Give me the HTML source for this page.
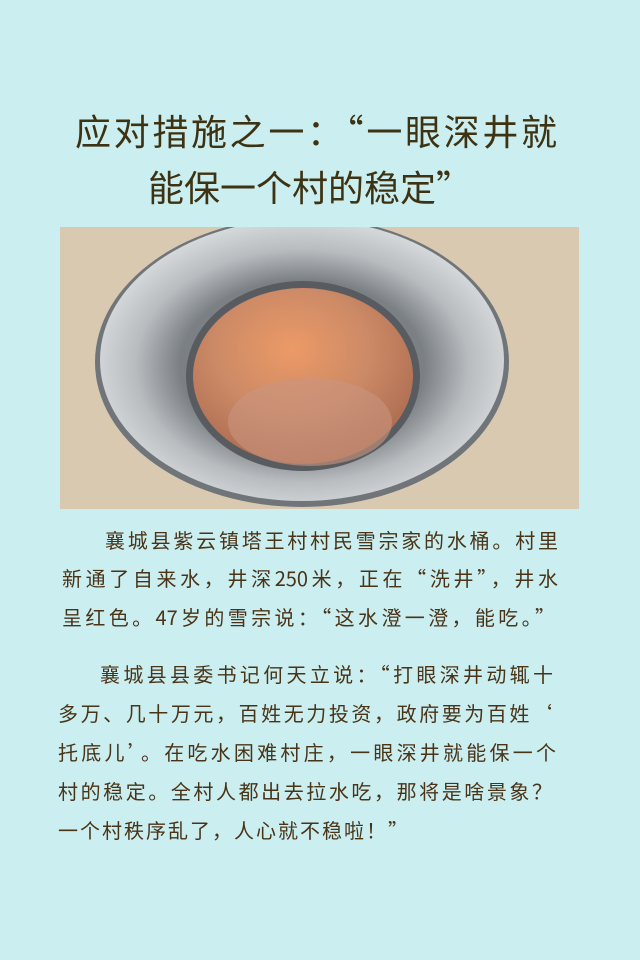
<!DOCTYPE html>
<html><head><meta charset="utf-8">
<style>
body{margin:0;width:640px;height:960px;background:#cbeef0;position:relative;overflow:hidden;font-family:"Liberation Sans","Noto Sans CJK SC",sans-serif;}
.t{position:absolute;color:#3d3212;font-size:36px;white-space:nowrap;line-height:40px;font-family:"Noto Sans CJK SC",sans-serif;}
.l{position:absolute;color:#4a3418;font-size:20px;line-height:24px;white-space:nowrap;text-align:justify;text-align-last:justify;font-family:"Noto Sans CJK SC",sans-serif;}
</style></head><body>
<div class="t" style="left:75px;top:110px;width:482px;text-align:justify;text-align-last:justify;">应对措施之一：“一眼深井就</div>
<div class="t" style="left:148px;top:166px;">能保一个村的稳定”</div>

<svg style="position:absolute;left:60px;top:227px" width="519" height="282" viewBox="60 227 519 282">
<defs>
<radialGradient id="w" cx="0.45" cy="0.35" r="0.7"><stop offset="0" stop-color="#ec9a66"/><stop offset="0.5" stop-color="#cc8a66"/><stop offset="1" stop-color="#a8684e"/></radialGradient>
<radialGradient id="r" cx="0.5" cy="0.52" r="0.55"><stop offset="0.55" stop-color="#7b8084"/><stop offset="0.75" stop-color="#b8bcbf"/><stop offset="1" stop-color="#dfe2e3"/></radialGradient>
</defs>
<rect x="60" y="227" width="519" height="282" fill="#d9c9b1"/>
<ellipse cx="302" cy="362" rx="207" ry="145" fill="#70757a"/>
<ellipse cx="302" cy="360" rx="202" ry="141" fill="url(#r)"/>
<ellipse cx="303" cy="376" rx="117" ry="95" fill="#585c60"/>
<ellipse cx="303" cy="376" rx="110" ry="88" fill="url(#w)"/>
<ellipse cx="310" cy="422" rx="82" ry="44" fill="#c9947e" opacity="0.6"/>
</svg>

<div class="l" style="left:105px;top:528px;width:453px;">襄城县紫云镇塔王村村民雪宗家的水桶。村里</div>
<div class="l" style="left:62px;top:566px;width:496px;">新通了自来水，井深250米，正在“洗井”，井水</div>
<div class="l" style="left:62px;top:605px;width:493px;">呈红色。47岁的雪宗说：“这水澄一澄，能吃。”</div>

<div class="l" style="left:100px;top:662px;width:453px;">襄城县县委书记何天立说：“打眼深井动辄十</div>
<div class="l" style="left:58px;top:701px;width:494px;">多万、几十万元，百姓无力投资，政府要为百姓‘</div>
<div class="l" style="left:58px;top:740px;width:498px;">托底儿’。在吃水困难村庄，一眼深井就能保一个</div>
<div class="l" style="left:58px;top:779px;width:494px;">村的稳定。全村人都出去拉水吃，那将是啥景象？</div>
<div class="l" style="left:58px;top:818px;width:350px;">一个村秩序乱了，人心就不稳啦！”</div>
</body></html>
